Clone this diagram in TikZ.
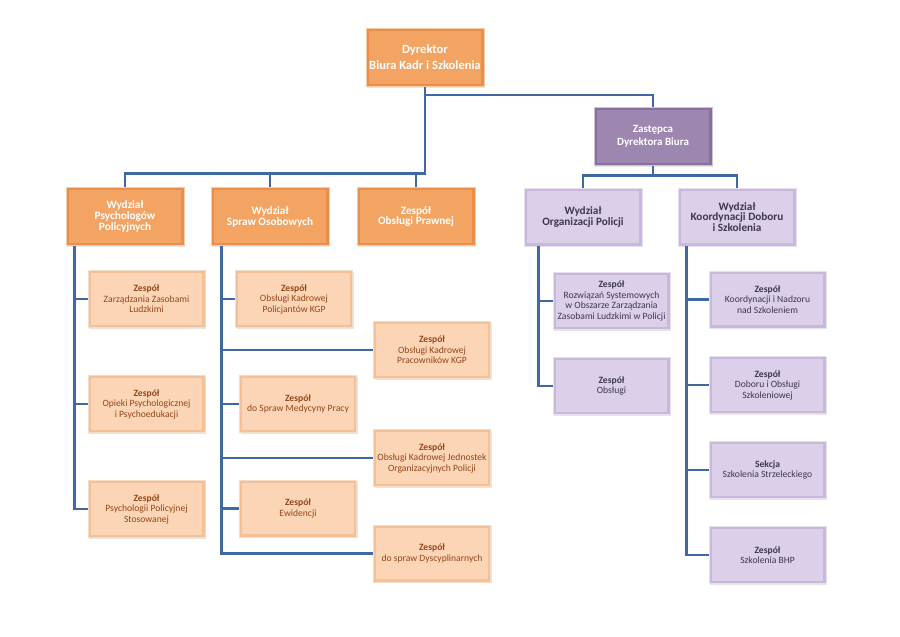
\documentclass[tikz,border=0pt]{standalone}
\usepackage{fontspec}
\setmainfont{Carlito}
\usetikzlibrary{positioning,calc,shadows}
\definecolor{orangemain}{HTML}{F4A462}
\definecolor{orangeedge}{HTML}{E98F4B}
\definecolor{orangeline}{HTML}{F7CBA4}
\definecolor{peach}{HTML}{FBD5B6}
\definecolor{peachedge}{HTML}{F3C097}
\definecolor{peachline}{HTML}{F2DDCA}
\definecolor{peachtext}{HTML}{94471A}
\definecolor{plum}{HTML}{9D86AF}
\definecolor{plumedge}{HTML}{87709C}
\definecolor{plumline}{HTML}{CFC3DA}
\definecolor{lilac}{HTML}{DBCFEA}
\definecolor{lilacedge}{HTML}{C7B8DC}
\definecolor{lilacline}{HTML}{E8E0F0}
\definecolor{lilactext}{HTML}{3E3850}
\definecolor{linkblue}{HTML}{3E69A6}
\tikzset{
  box/.style={minimum width=3.54cm, minimum height=1.74cm, align=center, inner sep=1pt, line width=0.7pt,
    drop shadow={shadow xshift=1.2pt, shadow yshift=-1.2pt, opacity=0.2}},
  bevel/.style 2 args={path picture={
    \fill[#1] (path picture bounding box.south west) rectangle (path picture bounding box.north east);
    \fill[#2] ([shift={(2.4pt,2.4pt)}]path picture bounding box.south west) rectangle ([shift={(-2.4pt,-2.4pt)}]path picture bounding box.north east);}},
  orangebox/.style={box, draw=orangeline, fill=orangemain, bevel={orangeedge}{orangemain}, text=white,
    font=\fontsize{9.6}{9.3}\selectfont\bfseries},
  peachbox/.style={box, minimum width=3.51cm, minimum height=1.71cm, draw=peachline, fill=peach, bevel={peachedge}{peach},
    text=peachtext, font=\fontsize{8.2}{9}\selectfont},
  plumbox/.style={box, draw=plumline, fill=plum, bevel={plumedge}{plum}, text=white,
    font=\fontsize{9.4}{11.5}\selectfont\bfseries},
  lilacbox/.style={box, draw=lilacline, fill=lilac, bevel={lilacedge}{lilac}, text=lilactext,
    font=\fontsize{9.6}{9.3}\selectfont\bfseries},
  lilacsub/.style={box, minimum width=3.51cm, minimum height=1.71cm, draw=lilacline, fill=lilac, bevel={lilacedge}{lilac},
    text=lilactext, font=\fontsize{8.2}{9}\selectfont},
  conn/.style={draw=linkblue, line width=2pt},
}
\begin{document}
\begin{tikzpicture}[x=0.03cm, y=-0.03cm]
\fill[white] (0,0) rectangle (900,636);
\useasboundingbox (0,0) rectangle (900,636);
% top
\node[orangebox, font=\fontsize{10.7}{13.6}\selectfont\bfseries] (dyr) at (425,57.5) {Dyrektor\\Biura Kadr i Szkolenia};
\node[plumbox] (zast) at (653,136.5) {Zastępca\\Dyrektora Biura};
% departments
\node[orangebox] (wps) at (125,216.5) {Wydział\\Psychologów\\Policyjnych};
\node[orangebox] (wso) at (270,216.5) {Wydział\\Spraw Osobowych};
\node[orangebox] (zop) at (416,216.5) {Zespół\\Obsługi Prawnej};
\node[lilacbox] (wop) at (583,217) {Wydział\\Organizacji Policji};
\node[lilacbox] (wkd) at (737,217) {Wydział\\Koordynacji Doboru\\i Szkolenia};
% teams under Wydzial Psychologow
\node[peachbox] (zzl) at (146.5,299) {\textbf{Zespół}\\Zarządzania Zasobami\\Ludzkimi};
\node[peachbox] (zpp) at (146.5,404) {\textbf{Zespół}\\Opieki Psychologicznej\\i Psychoedukacji};
\node[peachbox] (zps) at (146.5,509) {\textbf{Zespół}\\Psychologii Policyjnej\\Stosowanej};
% teams under Wydzial Spraw Osobowych
\node[peachbox] (kpol) at (294,299) {\textbf{Zespół}\\Obsługi Kadrowej\\Policjantów KGP};
\node[peachbox] (kpra) at (432,350) {\textbf{Zespół}\\Obsługi Kadrowej\\Pracowników KGP};
\node[peachbox] (zmed) at (298,404) {\textbf{Zespół}\\do Spraw Medycyny Pracy};
\node[peachbox] (kjed) at (432,458) {\textbf{Zespół}\\Obsługi Kadrowej Jednostek\\Organizacyjnych Policji};
\node[peachbox] (zewi) at (298,508.5) {\textbf{Zespół}\\Ewidencji};
\node[peachbox] (zdys) at (432,553.5) {\textbf{Zespół}\\do spraw Dyscyplinarnych};
% teams under Wydzial Organizacji Policji
\node[lilacsub] (zrs) at (611.5,301) {\textbf{Zespół}\\Rozwiązań Systemowych\\w Obszarze Zarządzania\\Zasobami Ludzkimi w Policji};
\node[lilacsub] (zob) at (611.5,386) {\textbf{Zespół}\\Obsługi};
% teams under Wydzial Koordynacji
\node[lilacsub] (zkn) at (767.5,299.5) {\textbf{Zespół}\\Koordynacji i Nadzoru\\nad Szkoleniem};
\node[lilacsub] (zdo) at (767.5,385) {\textbf{Zespół}\\Doboru i Obsługi\\Szkoleniowej};
\node[lilacsub] (sss) at (767.5,470) {\textbf{Sekcja}\\Szkolenia Strzeleckiego};
\node[lilacsub] (zbhp) at (767.5,555) {\textbf{Zespół}\\Szkolenia BHP};
% connectors
\draw[conn] (dyr.south) -- ++(0,8) -| (zast.north);
\foreach \d in {wps,wso,zop} \draw[conn] (dyr.south) -- ++(0,86.5) -| (\d.north);
\foreach \d in {wop,wkd} \draw[conn] (zast.south) -- ++(0,9.5) -| (\d.north);
\foreach \t in {zzl,zpp,zps} \draw[conn] ($(wps.south west)+(9,0)$) |- (\t.west);
\foreach \t in {kpol,kpra,zmed,kjed,zewi,zdys} \draw[conn] ($(wso.south west)+(11,0)$) |- (\t.west);
\foreach \t in {zrs,zob} \draw[conn] ($(wop.south west)+(15,0)$) |- (\t.west);
\foreach \t in {zkn,zdo,sss,zbhp} \draw[conn] ($(wkd.south west)+(9,0)$) |- (\t.west);
\end{tikzpicture}
\end{document}
